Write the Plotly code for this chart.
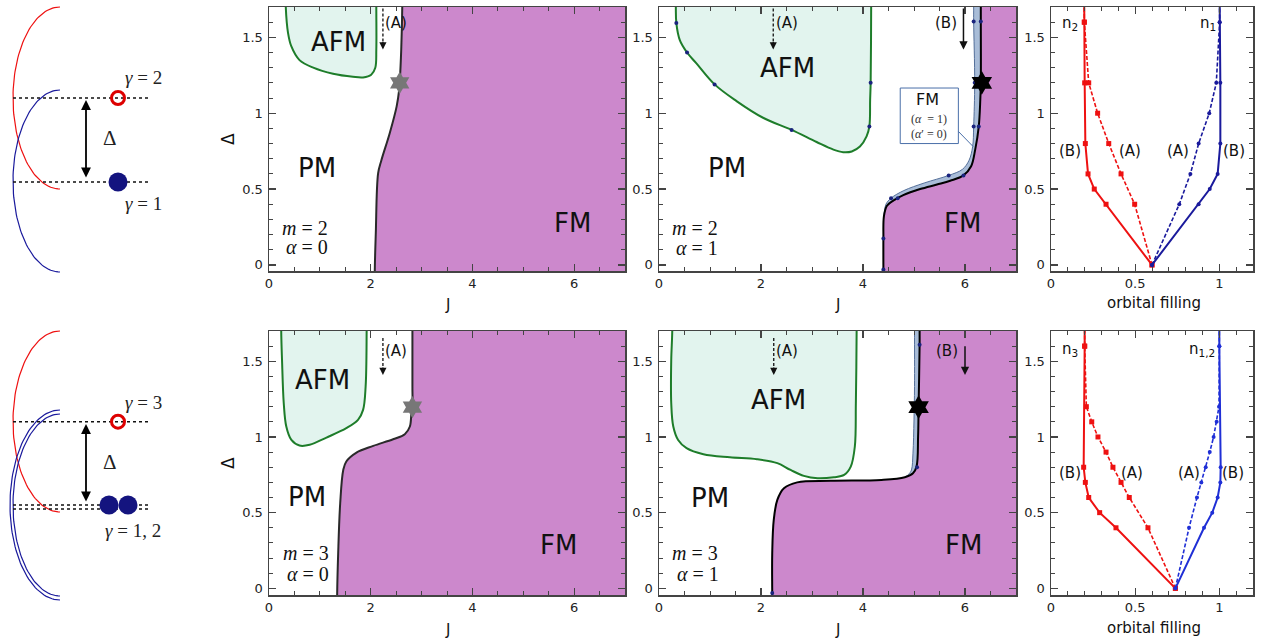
import numpy as np
import plotly.graph_objects as go

W, H = 1261, 639
AX = "#444444"
FM_FILL = "#CC88CC"
AFM_FILL = "#E2F4EE"
AFM_LINE = "#1E7D2A"
BAND_FILL = "#A9BDD8"
BAND_LINE = "#55709A"
DOT = "#1A237E"
RED = "#EE1111"
NAVY = "#1A1A9C"
BLUE = "#1F2FD6"
SANS = "DejaVu Sans"
SERIF = "Liberation Serif"

# ---------------- tick labels ----------------
J_TICKVALS = [0, 2, 4, 6]
J_TICKTEXT = ["0", "2", "4", "6"]
D_TICKVALS = [0, 0.5, 1, 1.5]
D_TICKTEXT = ["0", "0.5", "1", "1.5"]
F_TICKVALS = [0, 0.5, 1]
F_TICKTEXT = ["0", "0.5", "1"]

# ---------------- m=2, alpha=0 ----------------
m2a0_fm_J = [2.08, 2.08, 2.10, 2.146, 2.21, 2.375, 2.51, 2.56, 2.57, 2.60, 2.62, 2.62]
m2a0_fm_D = [-0.3, -0.04, 0.21, 0.605, 0.69, 0.87, 1.045, 1.155, 1.20, 1.42, 1.70, 2.0]
m2a0_afm_J = [0.33, 0.33, 0.374, 0.44, 0.60, 0.87, 1.26, 1.65, 1.85, 2.01, 2.09, 2.11, 2.11, 2.11]
m2a0_afm_D = [2.0, 1.70, 1.53, 1.44, 1.35, 1.30, 1.26, 1.24, 1.236, 1.254, 1.30, 1.42, 1.70, 2.0]
m2a0_star = [2.57, 1.20]

# ---------------- m=2, alpha=1 ----------------
m2a1_afm_J = [0.33, 0.33, 0.34, 0.41, 0.55, 0.73, 1.09, 1.52, 2.04, 2.60, 3.09, 3.42, 3.61, 3.78,
              3.94, 4.07, 4.125, 4.14, 4.15, 4.16, 4.16]
m2a1_afm_D = [2.0, 1.70, 1.594, 1.48, 1.40, 1.33, 1.19, 1.08, 0.97, 0.89, 0.81, 0.76, 0.743, 0.748,
              0.78, 0.847, 0.913, 1.09, 1.20, 1.70, 2.0]
m2a1_fm_J = [4.40, 4.40, 4.40, 4.41, 4.47, 4.60, 4.79, 5.12, 5.45, 5.71, 5.97, 6.12, 6.20, 6.27,
             6.30, 6.31, 6.31, 6.31, 6.31]
m2a1_fm_D = [-0.3, -0.04, 0.174, 0.32, 0.39, 0.425, 0.46, 0.50, 0.53, 0.555, 0.59, 0.65, 0.76, 0.913,
             1.09, 1.20, 1.605, 1.70, 2.0]
m2a1_band_J = [4.41, 4.45, 4.55, 4.80, 5.20, 5.68, 5.95, 6.08, 6.15, 6.17, 6.19, 6.17, 6.17, 6.17]
m2a1_band_D = [0.33, 0.40, 0.44, 0.49, 0.54, 0.59, 0.63, 0.69, 0.78, 0.913, 1.20, 1.605, 1.70, 2.0]
m2a1_dots_J = [0.34, 0.55, 1.09, 2.60, 4.125, 4.15, 4.40, 4.40, 4.55, 4.68, 5.68, 5.97, 6.17, 6.27,
               6.19, 6.17, 6.31]
m2a1_dots_D = [1.594, 1.40, 1.19, 0.89, 0.913, 1.20, -0.03, 0.174, 0.44, 0.44, 0.59, 0.59, 0.913,
               0.913, 1.20, 1.605, 1.605]
m2a1_star = [6.33, 1.20]

# ---------------- m=3, alpha=0 ----------------
m3a0_fm_J = [1.34, 1.34, 1.36, 1.40, 1.46, 1.52, 1.72, 2.05, 2.44, 2.67, 2.77, 2.80, 2.82, 2.82, 2.82, 2.82]
m3a0_fm_D = [-0.3, -0.044, 0.231, 0.562, 0.782, 0.838, 0.897, 0.941, 0.985, 1.018, 1.069, 1.157,
             1.197, 1.333, 1.70, 2.0]
m3a0_afm_J = [0.24, 0.24, 0.256, 0.29, 0.34, 0.44, 0.60, 0.80, 1.13, 1.52, 1.75, 1.85, 1.90, 1.92, 1.92]
m3a0_afm_D = [2.0, 1.70, 1.51, 1.223, 1.069, 0.98, 0.943, 0.948, 0.996, 1.058, 1.113, 1.179, 1.333,
              1.70, 2.0]
m3a0_star = [2.82, 1.197]

# ---------------- m=3, alpha=1 ----------------
m3a1_afm_J = [0.26, 0.26, 0.24, 0.24, 0.28, 0.375, 0.54, 0.87, 1.39, 1.92, 2.32, 2.58, 2.84, 3.11,
              3.43, 3.63, 3.76, 3.84, 3.86, 3.875, 3.875]
m3a1_afm_D = [2.0, 1.70, 1.51, 1.223, 1.069, 0.98, 0.926, 0.886, 0.866, 0.853, 0.827, 0.782, 0.743,
              0.727, 0.734, 0.749, 0.804, 0.937, 1.223, 1.70, 2.0]
m3a1_fm_J = [2.22, 2.22, 2.22, 2.25, 2.32, 2.45, 2.71, 3.37, 4.36, 4.82, 4.98, 5.05, 5.08, 5.09,
             5.11, 5.11, 5.11]
m3a1_fm_D = [-0.3, -0.044, 0.231, 0.452, 0.584, 0.661, 0.70, 0.71, 0.716, 0.734, 0.76, 0.804,
             1.003, 1.197, 1.609, 1.70, 2.0]
m3a1_band_J = [4.84, 4.90, 4.95, 4.98, 5.00, 5.01, 5.01, 5.01]
m3a1_band_D = [0.738, 0.755, 0.782, 0.893, 1.113, 1.333, 1.70, 2.0]
m3a1_dots_J = [2.22, 5.11, 5.06]
m3a1_dots_D = [-0.03, 1.609, 0.80]
m3a1_star = [5.09, 1.197]

# ---------------- orbital filling, m=2 ----------------
f2_B_D = [0, 0.4, 0.5, 0.6, 0.8, 1.2, 1.6, 2.0]
f2_B_n2 = [0.60, 0.327, 0.257, 0.22, 0.204, 0.200, 0.198, 0.196]
f2_B_n1 = [0.60, 0.877, 0.943, 0.99, 1.006, 1.006, 1.002, 1.0]
f2_A_D = [0, 0.4, 0.6, 0.8, 1.0, 1.2, 1.6, 2.0]
f2_A_n2 = [0.60, 0.497, 0.416, 0.343, 0.277, 0.224, 0.198, 0.196]
f2_A_n1 = [0.60, 0.762, 0.828, 0.877, 0.94, 0.982, 1.002, 1.0]

# ---------------- orbital filling, m=3 ----------------
f3_B_D = [0, 0.4, 0.5, 0.6, 0.7, 0.8, 1.6, 2.0]
f3_B_n3 = [0.739, 0.386, 0.289, 0.224, 0.204, 0.194, 0.20, 0.20]
f3_B_n12 = [0.739, 0.909, 0.958, 0.99, 1.006, 1.008, 1.0, 1.0]
f3_A_D = [0, 0.4, 0.6, 0.7, 0.8, 0.9, 1.0, 1.1, 1.2, 1.6, 2.0]
f3_A_n3 = [0.739, 0.576, 0.465, 0.416, 0.368, 0.327, 0.279, 0.242, 0.21, 0.20, 0.20]
f3_A_n12 = [0.739, 0.82, 0.867, 0.893, 0.919, 0.943, 0.966, 0.984, 0.998, 1.0, 1.0]

fig = go.Figure()


def names(n):
    s = "" if n == 1 else str(n)
    return "x" + s, "y" + s, "xaxis" + s, "yaxis" + s


def add(n, **kw):
    xa, ya, _, _ = names(n)
    fig.add_trace(go.Scatter(xaxis=xa, yaxis=ya, showlegend=False, hoverinfo="skip", **kw))


def text(n, x, y, s, size, family=SANS, color="#111111", **kw):
    xa, ya, _, _ = names(n)
    fig.add_annotation(x=x, y=y, xref=xa, yref=ya, text=s, showarrow=False, xanchor="center",
                       yanchor="middle", font=dict(size=size, family=family, color=color), **kw)


def axes(n, px0, px1, py0, py1, xr, yr, kind):
    _, _, xk, yk = names(n)
    xa, ya, _, _ = names(n)
    dx = [px0 / W, px1 / W]
    dy = [1 - py1 / H, 1 - py0 / H]
    if kind == "schem":
        fig.update_layout(**{xk: dict(domain=dx, range=xr, visible=False, anchor=ya, fixedrange=True,
                                      automargin=False),
                             yk: dict(domain=dy, range=yr, visible=False, anchor=xa, fixedrange=True,
                                      automargin=False)})
        return
    common = dict(ticks="inside", ticklen=7, tickwidth=1.2, tickcolor=AX, mirror="allticks",
                  showline=True, linecolor=AX, linewidth=1.5, showgrid=False, zeroline=False,
                  automargin=False, fixedrange=True, tickfont=dict(family=SANS, size=13, color="#222222"))
    if kind == "phase":
        xt, xtt, xmin = J_TICKVALS, J_TICKTEXT, 0.5
    else:
        xt, xtt, xmin = F_TICKVALS, F_TICKTEXT, 0.1
    fig.update_layout(**{
        xk: dict(domain=dx, range=xr, anchor=ya, tickmode="array", tickvals=xt, ticktext=xtt,
                 ticklabelstandoff=0,
                 minor=dict(ticks="inside", ticklen=4, tickwidth=1, tickcolor=AX, dtick=xmin, tick0=0),
                 **common),
        yk: dict(domain=dy, range=yr, anchor=xa, tickmode="array", tickvals=D_TICKVALS,
                 ticktext=D_TICKTEXT, ticklabelstandoff=2,
                 minor=dict(ticks="inside", ticklen=4, tickwidth=1, tickcolor=AX, dtick=0.1, tick0=0),
                 **common),
    })


YR = [-0.04, 1.70]
axes(1, 0, 220, 0, 300, [0, 220], [300, 0], "schem")
axes(2, 269, 625, 7, 271, [0, 7], YR, "phase")
axes(3, 659, 1016, 7, 271, [0, 7], YR, "phase")
axes(4, 1051, 1253, 7, 271, [0, 1.2], YR, "fill")
axes(5, 0, 220, 320, 639, [0, 220], [639, 320], "schem")
axes(6, 269, 625, 331, 595, [0, 7], [-0.044, 1.70], "phase")
axes(7, 659, 1016, 331, 595, [0, 7], [-0.044, 1.70], "phase")
axes(8, 1051, 1253, 331, 595, [0, 1.2], [-0.044, 1.70], "fill")


# ---------------- phase panels ----------------
def phase(n, afm_J, afm_D, fm_J, fm_D, fm_color, band_J=None, band_D=None):
    add(n, x=[afm_J[0]] + afm_J + [afm_J[-1]], y=[3.0] + afm_D + [3.0], mode="lines",
        line=dict(width=0, shape="spline"), fill="toself", fillcolor=AFM_FILL)
    add(n, x=[fm_J[0]] + fm_J + [fm_J[-1], 14, 14], y=[-2.3] + fm_D + [4.0, 4.0, -2.3], mode="lines",
        line=dict(width=0, shape="spline"), fill="toself", fillcolor=FM_FILL)
    if band_J is not None:
        top = [(j, d) for j, d in zip(fm_J, fm_D) if d >= band_D[0] - 0.015]
        bx = band_J + [band_J[-1], top[-1][0]] + [p[0] for p in reversed(top)]
        by = band_D + [4.0, 4.0] + [p[1] for p in reversed(top)]
        add(n, x=bx, y=by, mode="lines", line=dict(width=0, shape="spline"), fill="toself",
            fillcolor=BAND_FILL)
        add(n, x=band_J, y=band_D, mode="lines", line=dict(color=BAND_LINE, width=1, shape="spline"))
    add(n, x=afm_J, y=afm_D, mode="lines", line=dict(color=AFM_LINE, width=2, shape="spline"))
    add(n, x=fm_J, y=fm_D, mode="lines", line=dict(color=fm_color, width=2, shape="spline"))


phase(2, m2a0_afm_J, m2a0_afm_D, m2a0_fm_J, m2a0_fm_D, "#2A2A2A")
phase(3, m2a1_afm_J, m2a1_afm_D, m2a1_fm_J, m2a1_fm_D, "#000000", m2a1_band_J, m2a1_band_D)
phase(6, m3a0_afm_J, m3a0_afm_D, m3a0_fm_J, m3a0_fm_D, "#2A2A2A")
phase(7, m3a1_afm_J, m3a1_afm_D, m3a1_fm_J, m3a1_fm_D, "#000000", m3a1_band_J, m3a1_band_D)

add(3, x=m2a1_dots_J, y=m2a1_dots_D, mode="markers", marker=dict(color=DOT, size=4))
add(7, x=m3a1_dots_J, y=m3a1_dots_D, mode="markers", marker=dict(color=DOT, size=4))

add(2, x=[m2a0_star[0]], y=[m2a0_star[1]], mode="markers",
    marker=dict(symbol="hexagram", size=17, color="#777777"))
add(6, x=[m3a0_star[0]], y=[m3a0_star[1]], mode="markers",
    marker=dict(symbol="hexagram", size=17, color="#777777"))
add(3, x=[m2a1_star[0]], y=[m2a1_star[1]], mode="markers",
    marker=dict(symbol="hexagram", size=18, color="#000000"))
add(7, x=[m3a1_star[0]], y=[m3a1_star[1]], mode="markers",
    marker=dict(symbol="hexagram", size=18, color="#000000"))

# arrows (A) dashed, (B) solid: [panel, J, top, tip]
ARROWS_A = [(2, 2.24, 1.69, 1.42), (3, 2.24, 1.69, 1.42), (6, 2.24, 1.653, 1.41), (7, 2.25, 1.653, 1.41)]
ARROWS_B = [(3, 5.97, 1.70, 1.42), (7, 6.0, 1.609, 1.41)]
for n, j, t, tip in ARROWS_A:
    add(n, x=[j, j], y=[t, tip + 0.03], mode="lines", line=dict(color="#111111", width=1.3, dash="3px,2px"))
    xa, ya, _, _ = names(n)
    fig.add_annotation(x=j, y=tip, xref=xa, yref=ya, ax=0, ay=-9, showarrow=True, text="",
                       arrowhead=2, arrowsize=1.1, arrowwidth=1.3, arrowcolor="#111111")
for n, j, t, tip in ARROWS_B:
    xa, ya, _, _ = names(n)
    fig.add_annotation(x=j, y=tip, xref=xa, yref=ya, ax=j, ay=t, axref=xa, ayref=ya, showarrow=True,
                       text="", arrowhead=2, arrowsize=1.1, arrowwidth=1.5, arrowcolor="#111111")

# phase labels
PHASE_LABELS = [
    (2, 1.36, 1.47, "AFM"), (2, 0.95, 0.64, "PM"), (2, 5.97, 0.275, "FM"),
    (3, 2.51, 1.30, "AFM"), (3, 1.34, 0.638, "PM"), (3, 5.96, 0.275, "FM"),
    (6, 1.05, 1.378, "AFM"), (6, 0.75, 0.606, "PM"), (6, 5.69, 0.287, "FM"),
    (7, 2.35, 1.245, "AFM"), (7, 1.00, 0.595, "PM"), (7, 5.98, 0.287, "FM"),
]
for n, x, y, s in PHASE_LABELS:
    text(n, x, y, s, 26)

PATH_LABELS = [(2, 2.49, 1.594, "(A)"), (3, 2.50, 1.594, "(A)"), (3, 5.63, 1.594, "(B)"),
               (6, 2.50, 1.565, "(A)"), (7, 2.51, 1.565, "(A)"), (7, 5.64, 1.565, "(B)")]
for n, x, y, s in PATH_LABELS:
    text(n, x, y, s, 15)

PARAM_LABELS = [
    (2, 0.71, 0.245, "<i>m</i> = 2"), (2, 0.75, 0.118, "<i>α</i> = 0"),
    (3, 0.71, 0.245, "<i>m</i> = 2"), (3, 0.74, 0.114, "<i>α</i> = 1"),
    (6, 0.72, 0.234, "<i>m</i> = 3"), (6, 0.77, 0.096, "<i>α</i> = 0"),
    (7, 0.70, 0.234, "<i>m</i> = 3"), (7, 0.77, 0.096, "<i>α</i> = 1"),
]
for n, x, y, s in PARAM_LABELS:
    text(n, x, y, s, 20, family=SERIF)

# FM (alpha=1, alpha'=0) box in m=2, alpha=1 panel
BOX_J = [4.73, 5.87]
BOX_D = [0.80, 1.166]
LEADER_J = [5.87, 6.16]
LEADER_D = [0.88, 0.78]
fig.add_shape(type="rect", xref="x3", yref="y3", x0=BOX_J[0], x1=BOX_J[1], y0=BOX_D[0], y1=BOX_D[1],
              line=dict(color="#4A6FA8", width=1), fillcolor="white", layer="above")
fig.add_shape(type="line", xref="x3", yref="y3", x0=LEADER_J[0], x1=LEADER_J[1], y0=LEADER_D[0],
              y1=LEADER_D[1], line=dict(color="#4A6FA8", width=1), layer="above")
text(3, 5.27, 1.089, "FM", 16)
text(3, 5.30, 0.961, "(<i>α</i>  = 1)", 12, family=SERIF, color="#333333")
text(3, 5.30, 0.862, "(<i>α</i>′ = 0)", 12, family=SERIF, color="#333333")

# ---------------- orbital filling panels ----------------
def filling(n, DB, rB, bB, DA, rA, bA, blue):
    add(n, x=rB, y=DB, mode="lines+markers", line=dict(color=RED, width=2),
        marker=dict(symbol="square", size=5, color=RED))
    add(n, x=rA, y=DA, mode="lines+markers", line=dict(color=RED, width=1.6, dash="4px,2px"),
        marker=dict(symbol="square", size=5, color=RED))
    add(n, x=bB, y=DB, mode="lines+markers", line=dict(color=blue, width=2),
        marker=dict(symbol="circle", size=4, color=blue))
    add(n, x=bA, y=DA, mode="lines+markers", line=dict(color=blue, width=1.6, dash="4px,2px"),
        marker=dict(symbol="circle", size=4, color=blue))


filling(4, f2_B_D, f2_B_n2, f2_B_n1, f2_A_D, f2_A_n2, f2_A_n1, NAVY)
filling(8, f3_B_D, f3_B_n3, f3_B_n12, f3_A_D, f3_A_n3, f3_A_n12, BLUE)

FILL_LABELS = [
    (4, 0.115, 1.594, "n<sub>2</sub>"), (4, 0.93, 1.594, "n<sub>1</sub>"),
    (4, 0.115, 0.75, "(B)"), (4, 0.47, 0.75, "(A)"), (4, 0.755, 0.75, "(A)"), (4, 1.085, 0.75, "(B)"),
    (8, 0.115, 1.58, "n<sub>3</sub>"), (8, 0.897, 1.58, "n<sub>1,2</sub>"),
    (8, 0.115, 0.762, "(B)"), (8, 0.48, 0.762, "(A)"), (8, 0.818, 0.762, "(A)"), (8, 1.08, 0.762, "(B)"),
]
for n, x, y, s in FILL_LABELS:
    text(n, x, y, s, 15)

# ---------------- axis titles ----------------
AXIS_TITLES = [
    (447, 305, "J", 0), (837, 305, "J", 0), (1154, 303, "orbital filling", 0),
    (447, 630, "J", 0), (837, 630, "J", 0), (1154, 628, "orbital filling", 0),
    (228, 139, "Δ", -90), (228, 463, "Δ", -90),
]
for px, py, s, ang in AXIS_TITLES:
    fig.add_annotation(x=px / W, y=1 - py / H, xref="paper", yref="paper", text=s, showarrow=False,
                       xanchor="center", yanchor="middle", textangle=ang,
                       font=dict(family=SANS, size=15 if ang == 0 else 17, color="#111111"))

# ---------------- level schematics ----------------
# arcs: (tip x, leftmost x, centre y, half height, colour)
SCHEM_ARCS = {
    1: [(60, 13, 98, 91, RED), (60, 13, 181, 91, NAVY)],
    5: [(60, 13, 421.5, 90.5, RED), (60, 10, 505, 95, NAVY), (60, 13, 505, 91, NAVY)],
}
SCHEM_LEVELS = {1: [98, 182], 5: [421.7, 505, 509]}
SCHEM_EMPTY = {1: [(118, 98)], 5: [(118, 421.7)]}
SCHEM_FULL = {1: [(118, 182)], 5: [(109, 505), (128, 505)]}
SCHEM_GAP = {1: (86, 100, 179), 5: (86, 424, 503)}
SCHEM_TEXT = {
    1: [(143, 77, "<i>γ</i> = 2"), (110, 138, "Δ"), (143, 203, "<i>γ</i> = 1")],
    5: [(143, 402, "<i>γ</i> = 3"), (110, 462, "Δ"), (133, 530, "<i>γ</i> = 1, 2")],
}
LEVEL_X = [13, 148]

for n in (1, 5):
    t = np.linspace(-np.pi / 2, np.pi / 2, 80)
    for xt, xl, yc, hh, col in SCHEM_ARCS[n]:
        add(n, x=xt - (xt - xl) * np.cos(t), y=yc + hh * np.sin(t), mode="lines",
            line=dict(color=col, width=1.2))
    for yl in SCHEM_LEVELS[n]:
        add(n, x=LEVEL_X, y=[yl, yl], mode="lines", line=dict(color="#111111", width=1.4, dash="dot"))
    add(n, x=[p[0] for p in SCHEM_EMPTY[n]], y=[p[1] for p in SCHEM_EMPTY[n]], mode="markers",
        marker=dict(symbol="circle-open", size=13, color="#DD0000", line=dict(width=3, color="#DD0000")))
    add(n, x=[p[0] for p in SCHEM_FULL[n]], y=[p[1] for p in SCHEM_FULL[n]], mode="markers",
        marker=dict(symbol="circle", size=19, color="#14147F"))
    gx, gy0, gy1 = SCHEM_GAP[n]
    xa, ya, _, _ = names(n)
    fig.add_annotation(x=gx, y=gy0, ax=gx, ay=gy1, xref=xa, yref=ya, axref=xa, ayref=ya, text="",
                       showarrow=True, arrowside="end+start", arrowhead=2, arrowsize=1.1,
                       arrowwidth=1.8, arrowcolor="#000000")
    for x, y, s in SCHEM_TEXT[n]:
        text(n, x, y, s, 19 if s != "Δ" else 21, family=SERIF, color="#222222")

fig.update_layout(width=W, height=H, margin=dict(l=0, r=0, t=0, b=0, autoexpand=False),
                  paper_bgcolor="white", plot_bgcolor="white", showlegend=False, hovermode=False)
fig.write_html("out.html", config={"displayModeBar": False, "staticPlot": True},
               post_script="document.body.style.margin='0';document.body.style.overflow='hidden';")
